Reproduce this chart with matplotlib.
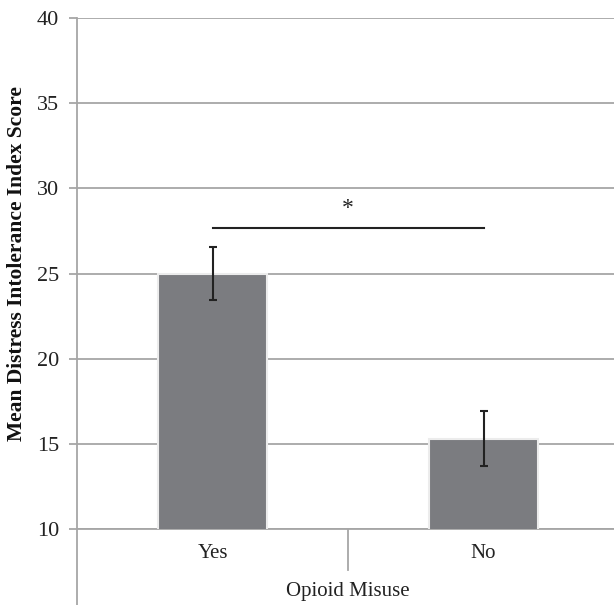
import matplotlib.pyplot as plt
from matplotlib.lines import Line2D
import matplotlib.transforms as mtransforms

plt.rcParams['font.family'] = ['Liberation Serif', 'DejaVu Serif']

groups = ['Yes', 'No']
means = [25.0, 15.3]
errs = [1.55, 1.6]
axis_title = 'Opioid Misuse'
y_title = 'Mean Distress Intolerance Index Score'
sig_y = 27.7

W, H = 614, 605
fig = plt.figure(figsize=(W / 100, H / 100), dpi=100)
ax = fig.add_axes([77 / W, 76 / H, 542 / W, 511 / H])

grid_c = '#a6a6a6'
x = range(len(groups))
ax.bar(x, means, width=0.4, color='#7b7c80', edgecolor='#ececec', linewidth=1.5, zorder=3)
ax.errorbar(x, means, yerr=errs, fmt='none', ecolor='#222222', elinewidth=1.5,
            capsize=3, capthick=1.5, zorder=4)

ax.set_xlim(-0.5, 1.5)
ax.set_ylim(10, 40)
ax.set_yticks(range(10, 41, 5))
ax.yaxis.grid(True, color=grid_c, linewidth=1.3, zorder=0)
ax.set_xticks([])
for s in ['top', 'right']:
    ax.spines[s].set_visible(False)
for s in ['left', 'bottom']:
    ax.spines[s].set_color(grid_c)
    ax.spines[s].set_linewidth(1.3)
ax.tick_params(axis='y', length=6, color=grid_c, width=1.3, labelsize=16, pad=7,
               labelcolor='#222222')

ax.set_ylabel(y_title, fontsize=15.5, fontweight='bold', color='#111111')
ax.yaxis.set_label_coords(-0.092, 0.52)

# significance bar
ax.plot([0, 1], [sig_y, sig_y], color='#222222', linewidth=1.5, zorder=4)
ax.text(0.5, sig_y + 0.5, '*', ha='center', va='bottom', fontsize=17, color='#222222')

# category labels
trans = mtransforms.blended_transform_factory(ax.transData, ax.transAxes)
for i, g in enumerate(groups):
    ax.text(i, -0.047, g, transform=trans, ha='center', va='center', fontsize=15,
            color='#222222')
ax.plot([0.5, 0.5], [0, -0.080], transform=trans, color=grid_c, linewidth=1.3, clip_on=False)
ax.text(0.5, -0.123, axis_title, transform=trans, ha='center', va='center', fontsize=15,
        color='#222222')

# left axis continues below plot area
fig.add_artist(Line2D([77 / W, 77 / W], [0, 76 / H], color=grid_c, linewidth=1.3))

fig.savefig('out.png', dpi=100)
